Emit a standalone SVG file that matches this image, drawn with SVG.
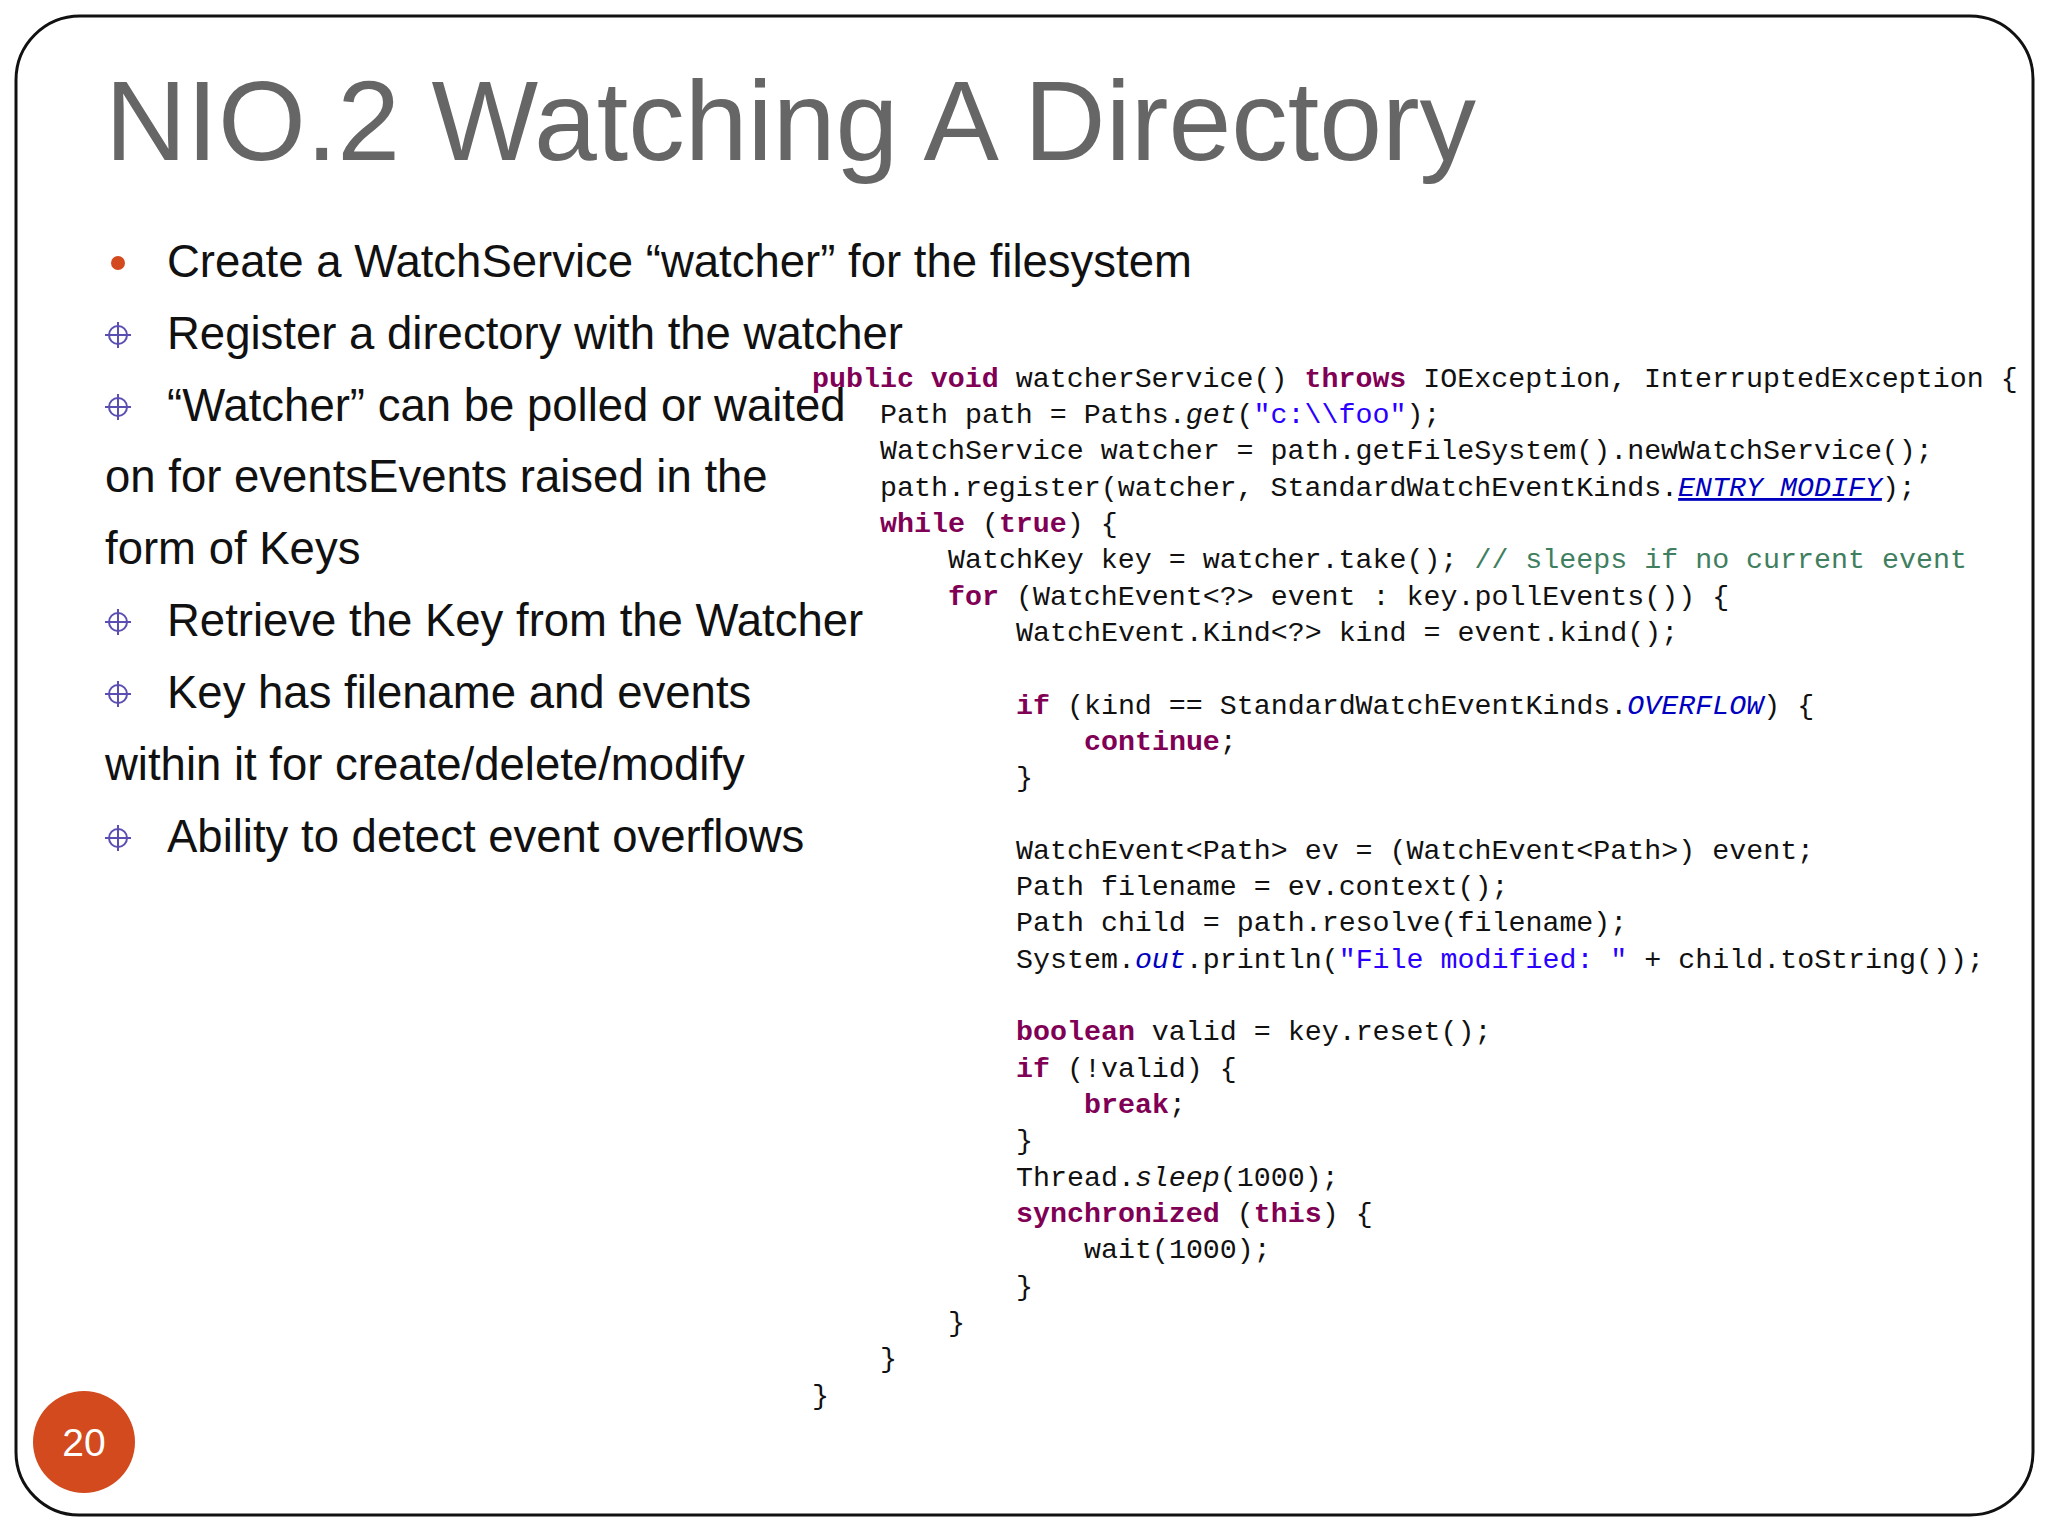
<svg xmlns="http://www.w3.org/2000/svg" width="2048" height="1536" viewBox="0 0 2048 1536">
<style>
.t{font-family:"Liberation Sans",Arial,sans-serif;fill:#111;font-size:45.5px}
.c{font-family:"Liberation Mono","Courier New",monospace;font-size:28.3px;fill:#111}
.k{fill:#7f0055;font-weight:bold}
.s{fill:#2a00ff}
.m{fill:#3f7f5f}
.f{fill:#0000c0;font-style:italic}
.i{font-style:italic}
.b{stroke:#5a4fb0;stroke-width:2;fill:none}
</style>
<rect width="2048" height="1536" fill="#fff"/>
<path d="M80,16 H1970 A63,63 0 0 1 2033,79 V1452 A63,63 0 0 1 1970,1515 H80 A63,63 0 0 1 16,1452 V80 A64,64 0 0 1 80,16 Z" fill="none" stroke="#111" stroke-width="3"/>
<g id="title"><text x="105" y="160" font-family="'Liberation Sans',Arial,sans-serif" font-size="113" fill="#666">NIO.2 Watching A Directory</text></g>
<g id="bullets">
<circle cx="118" cy="263" r="7" fill="#d24a1e"/>
<text class="t" x="167" y="277">Create a WatchService “watcher” for the filesystem</text>
<g class="b"><circle cx="118" cy="335" r="9"/><path d="M105,335H131M118,322V348"/></g>
<text class="t" x="167" y="349">Register a directory with the watcher</text>
<g class="b"><circle cx="118" cy="407" r="9"/><path d="M105,407H131M118,394V420"/></g>
<text class="t" x="167" y="421">“Watcher” can be polled or waited</text>
<text class="t" x="105" y="492">on for eventsEvents raised in the</text>
<text class="t" x="105" y="564">form of Keys</text>
<g class="b"><circle cx="118" cy="622" r="9"/><path d="M105,622H131M118,609V635"/></g>
<text class="t" x="167" y="636">Retrieve the Key from the Watcher</text>
<g class="b"><circle cx="118" cy="694" r="9"/><path d="M105,694H131M118,681V707"/></g>
<text class="t" x="167" y="708">Key has filename and events</text>
<text class="t" x="105" y="780">within it for create/delete/modify</text>
<g class="b"><circle cx="118" cy="838" r="9"/><path d="M105,838H131M118,825V851"/></g>
<text class="t" x="167" y="852">Ability to detect event overflows</text>
</g>
<g id="code" class="c">
<text x="812" y="387"><tspan class="k">public void</tspan> watcherService() <tspan class="k">throws</tspan> IOException, InterruptedException {</text>
<text x="880" y="423">Path path = Paths.<tspan class="i">get</tspan>(<tspan class="s">"c:\\foo"</tspan>);</text>
<text x="880" y="459">WatchService watcher = path.getFileSystem().newWatchService();</text>
<text x="880" y="496">path.register(watcher, StandardWatchEventKinds.<tspan class="f" text-decoration="underline">ENTRY_MODIFY</tspan>);</text>
<text x="880" y="532"><tspan class="k">while</tspan> (<tspan class="k">true</tspan>) {</text>
<text x="948" y="568">WatchKey key = watcher.take(); <tspan class="m">// sleeps if no current event</tspan></text>
<text x="948" y="605"><tspan class="k">for</tspan> (WatchEvent&lt;?&gt; event : key.pollEvents()) {</text>
<text x="1016" y="641">WatchEvent.Kind&lt;?&gt; kind = event.kind();</text>
<text x="1016" y="714"><tspan class="k">if</tspan> (kind == StandardWatchEventKinds.<tspan class="f">OVERFLOW</tspan>) {</text>
<text x="1084" y="750"><tspan class="k">continue</tspan>;</text>
<text x="1016" y="786">}</text>
<text x="1016" y="859">WatchEvent&lt;Path&gt; ev = (WatchEvent&lt;Path&gt;) event;</text>
<text x="1016" y="895">Path filename = ev.context();</text>
<text x="1016" y="931">Path child = path.resolve(filename);</text>
<text x="1016" y="968">System.<tspan class="f">out</tspan>.println(<tspan class="s">"File modified: "</tspan> + child.toString());</text>
<text x="1016" y="1040"><tspan class="k">boolean</tspan> valid = key.reset();</text>
<text x="1016" y="1077"><tspan class="k">if</tspan> (!valid) {</text>
<text x="1084" y="1113"><tspan class="k">break</tspan>;</text>
<text x="1016" y="1149">}</text>
<text x="1016" y="1186">Thread.<tspan class="i">sleep</tspan>(1000);</text>
<text x="1016" y="1222"><tspan class="k">synchronized</tspan> (<tspan class="k">this</tspan>) {</text>
<text x="1084" y="1258">wait(1000);</text>
<text x="1016" y="1295">}</text>
<text x="948" y="1331">}</text>
<text x="880" y="1367">}</text>
<text x="812" y="1404">}</text>
</g>
<g id="page"><circle cx="84" cy="1442" r="51" fill="#d24a1e"/><text x="84" y="1456" text-anchor="middle" font-family="'Liberation Sans',Arial,sans-serif" font-size="39" fill="#fff">20</text></g>
</svg>
